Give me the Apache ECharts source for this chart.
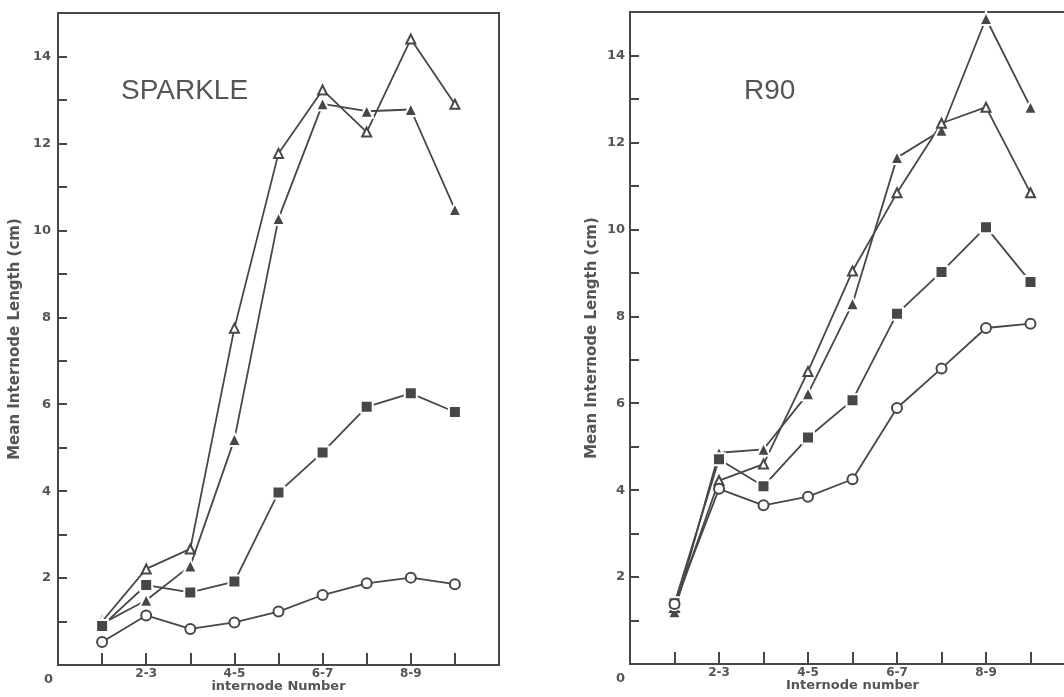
<!DOCTYPE html>
<html>
<head>
<meta charset="utf-8">
<script src="https://cdn.jsdelivr.net/npm/echarts@6/dist/echarts.min.js"></script>
<style>
  html, body { margin: 0; padding: 0; background: #ffffff; }
  #chart { width: 1064px; height: 697px; }
</style>
</head>
<body>
<div id="chart"></div>
<script>
// Internode positions (x) and tick labels
const internodes = [1, 2, 3, 4, 5, 6, 7, 8, 9];
const xLabelValues = [0, 2, 4, 6, 8];
const xLabelTexts = ['0', '2-3', '4-5', '6-7', '8-9'];
const yTickValues = [1, 2, 3, 4, 5, 6, 7, 8, 9, 10, 11, 12, 13, 14];
const yLabelValues = [2, 4, 6, 8, 10, 12, 14];

// SPARKLE panel
const sparkleOpenTri   = [1.00, 2.21, 2.67, 7.75, 11.77, 13.23, 12.26, 14.40, 12.90];
const sparkleFilledTri = [0.95, 1.49, 2.28, 5.19, 10.27, 12.91, 12.74, 12.78, 10.48];
const sparkleSquare    = [0.90, 1.84, 1.67, 1.92, 3.97, 4.89, 5.94, 6.25, 5.82];
const sparkleCircle    = [0.53, 1.14, 0.83, 0.98, 1.23, 1.61, 1.88, 2.01, 1.86];

// R90 panel
const r90FilledTri = [1.20, 4.86, 4.94, 6.22, 8.29, 11.65, 12.28, 14.85, 12.81];
const r90OpenTri   = [1.30, 4.22, 4.60, 6.73, 9.04, 10.84, 12.44, 12.81, 10.84];
const r90Square    = [1.40, 4.71, 4.09, 5.21, 6.07, 8.06, 9.02, 10.05, 8.79];
const r90Circle    = [1.38, 4.03, 3.65, 3.85, 4.25, 5.89, 6.80, 7.73, 7.83];

const INK = '#474747';
const TXT = '#555555';

function pairs(vals) { return internodes.map((x, i) => [x, vals[i]]); }

function makeSeries(vals, kind, idx) {
  const s = {
    type: 'line',
    xAxisIndex: idx, yAxisIndex: idx,
    data: pairs(vals),
    lineStyle: { color: INK, width: 1.8 },
    animation: false,
    z: 3
  };
  if (kind === 'openTri') {
    s.symbol = 'emptyTriangle'; s.symbolSize = 9;
    s.itemStyle = { color: INK, borderColor: INK, borderWidth: 1.3 };
  } else if (kind === 'filledTri') {
    s.symbol = 'triangle'; s.symbolSize = 13;
    s.itemStyle = { color: INK, borderColor: '#ffffff', borderWidth: 2 };
  } else if (kind === 'square') {
    s.symbol = 'rect'; s.symbolSize = 12;
    s.itemStyle = { color: INK, borderColor: '#ffffff', borderWidth: 2 };
  } else {
    s.symbol = 'emptyCircle'; s.symbolSize = 10;
    s.itemStyle = { color: INK, borderColor: INK, borderWidth: 1.5 };
  }
  return s;
}

function xAxisFor(idx, name) {
  return {
    type: 'value', gridIndex: idx, min: 0, max: 10, interval: 1,
    name: name, nameLocation: 'middle', nameGap: 15, nameMoveOverlap: false,
    nameTextStyle: { color: TXT, fontSize: 13, fontWeight: 'bold', fontFamily: 'DejaVu Sans' },
    axisLine: { show: true, lineStyle: { color: INK, width: 2 } },
    axisTick: { show: true, inside: true, length: 12, customValues: internodes, lineStyle: { color: INK, width: 2 } },
    axisLabel: {
      customValues: xLabelValues, margin: 3,
      color: TXT, fontSize: 12, fontWeight: 'bold', fontFamily: 'DejaVu Sans',
      formatter: function (v) {
        const k = xLabelValues.indexOf(v);
        if (k < 0) return '';
        if (v === 0) return '{z|' + xLabelTexts[k] + '}';
        return xLabelTexts[k];
      },
      rich: { z: { padding: [5, 19, 0, 0], color: TXT, fontSize: 13, fontWeight: 'bold', fontFamily: 'DejaVu Sans' } }
    },
    splitLine: { show: false }
  };
}

function yAxisFor(idx, gap, margin) {
  return {
    type: 'value', gridIndex: idx, min: 0, max: 15, interval: 1,
    name: 'Mean Internode Length (cm)', nameLocation: 'middle', nameGap: gap, nameRotate: 90, nameMoveOverlap: false,
    nameTextStyle: { color: TXT, fontSize: 15, fontWeight: 'bold', fontFamily: 'DejaVu Sans' },
    axisLine: { show: true, lineStyle: { color: INK, width: 2 } },
    axisTick: { show: true, inside: true, length: 9, customValues: yTickValues, lineStyle: { color: INK, width: 2 } },
    axisLabel: {
      customValues: yLabelValues, margin: margin,
      color: TXT, fontSize: 13, fontWeight: 'bold', fontFamily: 'DejaVu Sans',
      formatter: function (v) { return yLabelValues.indexOf(v) >= 0 ? String(v) : ''; }
    },
    splitLine: { show: false }
  };
}

const chart = echarts.init(document.getElementById('chart'), null, { renderer: 'canvas' });
chart.setOption({
  backgroundColor: '#ffffff',
  animation: false,
  title: [
    { text: 'SPARKLE', left: 116, top: 72, textStyle: { color: TXT, fontSize: 28, fontWeight: 'normal', fontFamily: 'Liberation Sans' } },
    { text: 'R90', left: 739, top: 72, textStyle: { color: TXT, fontSize: 28, fontWeight: 'normal', fontFamily: 'Liberation Sans' } }
  ],
  grid: [
    { left: 58, top: 13, width: 441, height: 652, show: true, borderColor: INK, borderWidth: 2, backgroundColor: 'transparent', outerBoundsMode: 'none', containLabel: false },
    { left: 630, top: 12, width: 445, height: 652, show: true, borderColor: INK, borderWidth: 2, backgroundColor: 'transparent', outerBoundsMode: 'none', containLabel: false }
  ],
  xAxis: [xAxisFor(0, 'internode Number'), xAxisFor(1, 'Internode number')],
  yAxis: [yAxisFor(0, 35, 7), yAxisFor(1, 30, 5)],
  series: [
    makeSeries(sparkleOpenTri, 'openTri', 0),
    makeSeries(sparkleFilledTri, 'filledTri', 0),
    makeSeries(sparkleSquare, 'square', 0),
    makeSeries(sparkleCircle, 'circle', 0),
    makeSeries(r90FilledTri, 'filledTri', 1),
    makeSeries(r90OpenTri, 'openTri', 1),
    makeSeries(r90Square, 'square', 1),
    makeSeries(r90Circle, 'circle', 1)
  ]
});
</script>
</body>
</html>
